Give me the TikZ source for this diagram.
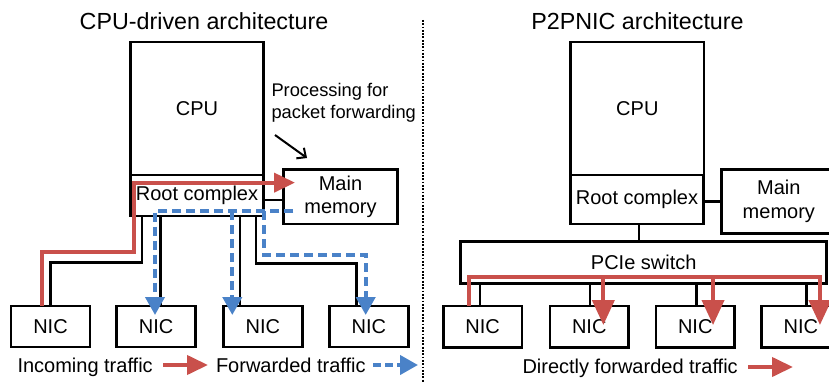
\documentclass[tikz,border=0pt]{standalone}
\usepackage{fontspec}
\setmainfont{Liberation Sans}
\usetikzlibrary{arrows.meta,calc}
\definecolor{myred}{RGB}{201,80,75}
\definecolor{myblue}{RGB}{74,130,200}
\begin{document}
\begin{tikzpicture}[x=1pt,y=-1pt,
  box/.style={draw,line width=2.5pt,inner sep=0pt,outer sep=0pt,anchor=north west,align=center,font=\fontsize{20}{23.3}\selectfont},
  lbl/.style={inner sep=0pt,outer sep=0pt,font=\fontsize{20}{23.3}\selectfont},
  ttl/.style={inner sep=0pt,outer sep=0pt,font=\fontsize{23.3}{26}\selectfont},
  conn/.style={draw,line width=2.5pt},
  inc/.style={draw=myred,line width=4pt,-{Triangle[length=21pt,width=19pt]}},
  fwd/.style={draw=myblue,line width=4pt,dash pattern=on 9pt off 5pt,-{Triangle[length=18pt,width=19pt]}},
  direct/.style={draw=myred,line width=4pt,-{Triangle[length=25pt,width=22pt]}}
]
\useasboundingbox (0,0) rectangle (829,382);
\clip (0,0) rectangle (829,382);

% ---------- left: CPU-driven ----------
\node[ttl,anchor=base] (tL) at (204,29.5) {CPU-driven architecture};
\node[box,minimum width=132.6pt,minimum height=133pt] (cpuL) at (130.7,42) {CPU};
\node[box,minimum width=132.6pt,minimum height=41pt] (rcL) at (130.7,175) {Root complex};
\node[box,minimum width=114.4pt,minimum height=54.7pt] (memL) at (283.3,169.3) {Main\\memory};
\node[box,minimum width=79pt,minimum height=41pt] (n1) at (11,306) {NIC};
\node[box,minimum width=79pt,minimum height=41pt] (n2) at (116.7,306) {NIC};
\node[box,minimum width=79pt,minimum height=41pt] (n3) at (223.3,306) {NIC};
\node[box,minimum width=79pt,minimum height=41pt] (n4) at (329.3,306) {NIC};

\node[inner sep=0pt,outer sep=0pt,anchor=north west,align=left,font=\fontsize{18.3}{22}\selectfont] (proc) at (271.5,83) {Processing for\\packet forwarding};
\coordinate (procA) at (275,135);
\draw[line width=2pt,-{Straight Barb[length=7pt,width=13pt]}] (procA) -- ($(memL.north west)+(23.7,-11.3)$);

\draw[conn] ([yshift=-4.5pt]rcL.east) -- ([yshift=-4.5pt]rcL.east -| memL.west);
\draw[conn] ([xshift=11.3pt]rcL.south west) -- ++(0,46.7) -| (n1.north);
\draw[conn] ([xshift=4.3pt]n2.north) -- ([xshift=4.3pt]n2.north |- rcL.south);
\draw[conn] ([xshift=-22.8pt]n3.north) -- ([xshift=-22.8pt]n3.north |- rcL.south);
\draw[conn] ([xshift=-7.3pt]rcL.south east) -- ++(0,47.3) -| ([xshift=-12.1pt]n4.north);

\draw[inc] ([xshift=-8.2pt]n1.north) |- (134.3,252.3) |- ($(memL.west)+(11.7,-14)$);

\draw[fwd] ($(memL.west)+(10,14.3)$) -| ($(n2.north)+(-1.2,9)$);
\draw[fwd] ($(n3.north)+(-30.5,-95)$) -- ($(n3.north)+(-30.5,9)$);
\draw[fwd] ($(rcL.south east)+(0.7,-5)$) |- ($(n4.north)+(-3.1,-51)$) -- ($(n4.north)+(-3.1,9)$);

\node[lbl,anchor=base west] (legIn) at (17.5,372) {Incoming traffic};
\coordinate (lia) at (163,365);
\coordinate (lib) at (208,365);
\draw[inc] (lia) -- (lib);
\node[lbl,anchor=base west] (legFw) at (216,372) {Forwarded traffic};
\coordinate (lfa) at (373,365);
\coordinate (lfb) at (418,365);
\draw[fwd,dash pattern=on 8pt off 4pt] (lfa) -- (lfb);

% ---------- divider ----------
\draw[line width=1.8pt,dash pattern=on 1.8pt off 1.5pt] (423,20) -- (423,382);

% ---------- right: P2PNIC ----------
\node[ttl,anchor=base] (tR) at (637.5,29.5) {P2PNIC architecture};
\node[box,minimum width=133.3pt,minimum height=133pt] (cpuR) at (570.7,42) {CPU};
\node[box,minimum width=133.3pt,minimum height=49pt] (rcR) at (570.3,175) {Root complex};
\node[box,minimum width=114.3pt,minimum height=64pt] (memR) at (721.7,169.3) {Main\\memory};
\node[box,minimum width=366pt,minimum height=41.6pt] (pcie) at (460.7,241.7) {PCIe switch};
\node[box,minimum width=78.5pt,minimum height=41.3pt] (m1) at (443.3,306) {NIC};
\node[box,minimum width=78.5pt,minimum height=41.3pt] (m2) at (550,306) {NIC};
\node[box,minimum width=78.5pt,minimum height=41.3pt] (m3) at (656,306) {NIC};
\node[box,minimum width=78.5pt,minimum height=41.3pt] (m4) at (761.7,306) {NIC};

\draw[conn] ([yshift=-2.2pt]rcR.east) -- ([yshift=-2.2pt]rcR.east -| memR.west);
\draw[conn] ([xshift=2.2pt]rcR.south) -- ([xshift=2.2pt]rcR.south |- pcie.north);
\draw[conn] ([xshift=-2.5pt]m1.north) -- ([xshift=-2.5pt]m1.north |- pcie.south);
\draw[conn] ([xshift=0.8pt]m2.north) -- ([xshift=0.8pt]m2.north |- pcie.south);
\draw[conn] ([xshift=1.2pt]m3.north) -- ([xshift=1.2pt]m3.north |- pcie.south);
\draw[conn] ([xshift=5.7pt]m4.north) -- ([xshift=5.7pt]m4.north |- pcie.south);

\draw[direct] ([xshift=-13.2pt]m1.north) -- ++(0,-29.5) -| ($(m4.north)+(19,19)$);
\draw[direct] ($(m2.north)+(14.1,-29.5)$) -- ($(m2.north)+(14.1,19)$);
\draw[direct] ($(m3.north)+(17.8,-29.5)$) -- ($(m3.north)+(17.8,19)$);

\node[lbl,anchor=base west] (legDf) at (522.5,373) {Directly forwarded traffic};
\coordinate (lda) at (748,367);
\coordinate (ldb) at (793,367);
\draw[inc] (lda) -- (ldb);
\end{tikzpicture}
\end{document}
